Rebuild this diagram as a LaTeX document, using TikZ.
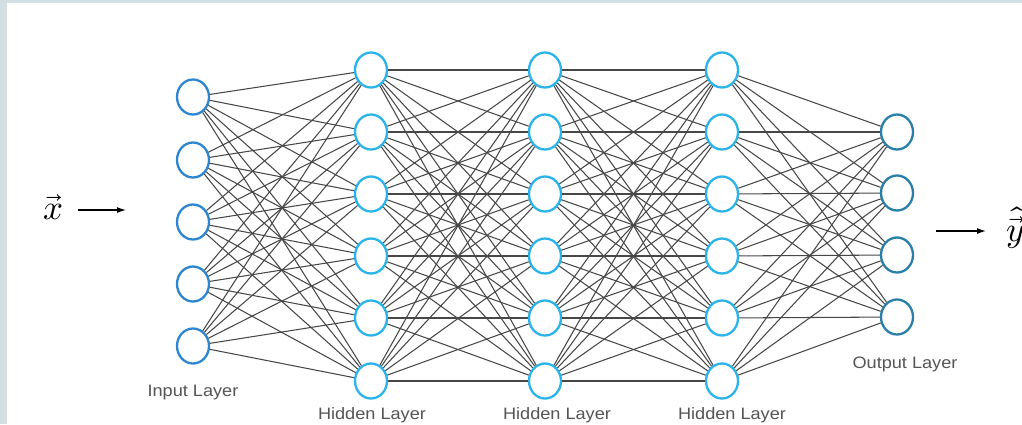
\documentclass[tikz,border=0pt]{standalone}
\usepackage{fontspec}
\setmainfont{Liberation Sans}
\usepackage{unicode-math}
\setmathfont{Latin Modern Math}
\usetikzlibrary{shapes.geometric,arrows.meta}
\definecolor{inblue}{HTML}{2E86D0}
\definecolor{hidblue}{HTML}{2AB4EA}
\definecolor{outblue}{HTML}{2A7FA8}
\definecolor{edgegray}{HTML}{474747}
\definecolor{labgray}{HTML}{555555}
\definecolor{bggray}{HTML}{D3DFE3}
\tikzset{
  neuron/.style={ellipse, draw, line width=2.3pt, fill=white, minimum width=32pt, minimum height=35pt, inner sep=0pt},
  inneuron/.style={neuron, draw=inblue},
  hidneuron/.style={neuron, draw=hidblue},
  outneuron/.style={neuron, draw=outblue},
  conn/.style={draw=edgegray, line width=1.05pt},
  layerlabel/.style={text=labgray, font=\fontsize{16.5}{17}\selectfont, xscale=1.1},
  ioarrow/.style={-{Latex[length=9pt,width=6pt]}, line width=1.2pt, black}
}
\begin{document}
\begin{tikzpicture}[x=1pt,y=-1pt]
\useasboundingbox (0,0) rectangle (1022,424);
\fill[bggray] (0,0) rectangle (1022,424);
\fill[white] (7,3) rectangle (1022,424);
% input layer
\foreach \i/\y in {1/97,2/160,3/222,4/284,5/346}
  \node[inneuron] (i\i) at (193,\y) {};
% hidden layers
\foreach \l/\x in {1/371,2/545,3/722}
  \foreach \i/\y in {1/70,2/132,3/194,4/256,5/318,6/381}
    \node[hidneuron] (h\l-\i) at (\x,\y) {};
% output layer
\foreach \i/\y in {1/132,2/193,3/255,4/317}
  \node[outneuron] (o\i) at (897,\y) {};
% connections
\foreach \a in {1,...,5}
  \foreach \b in {1,...,6}
    \draw[conn] (i\a) -- (h1-\b);
\foreach \a in {1,...,6}
  \foreach \b in {1,...,6}
    \draw[conn] (h1-\a) -- (h2-\b);
\foreach \a in {1,...,6}
  \foreach \b in {1,...,6}
    \draw[conn] (h2-\a) -- (h3-\b);
\foreach \a in {1,...,6}
  \foreach \b in {1,...,4}
    \draw[conn] (h3-\a) -- (o\b);
% labels
\node[layerlabel] (li) at (193,393) {Input Layer};
\node[layerlabel] (lh1) at (372,415) {Hidden Layer};
\node[layerlabel] (lh2) at (557,415) {Hidden Layer};
\node[layerlabel] (lh3) at (732,415) {Hidden Layer};
\node[layerlabel] (lo) at (905,364) {Output Layer};
% input/output
\node[font=\fontsize{35}{35}\selectfont, inner sep=0pt] (xin) at (53,207) {$\vec{x}$};
\coordinate (xa) at (78,210);
\coordinate (xb) at (126,210);
\draw[ioarrow] (xa) -- (xb);
\coordinate (ya) at (936,231);
\coordinate (yb) at (986,231);
\draw[ioarrow] (ya) -- (yb);
\node[font=\fontsize{35}{35}\selectfont, inner sep=0pt, anchor=west] (yout) at (1006,228) {$\hat{\vec{y}}$};
\end{tikzpicture}
\end{document}
